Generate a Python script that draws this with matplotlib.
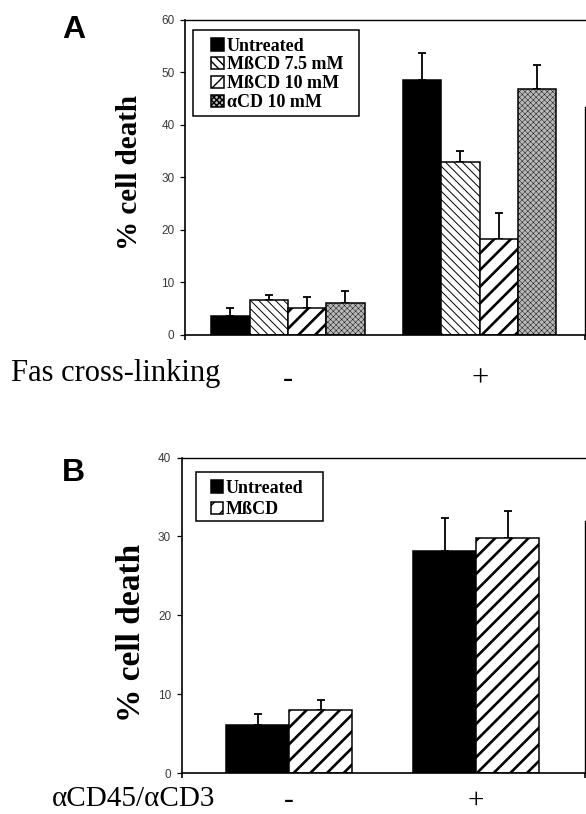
import matplotlib
matplotlib.use("Agg")
import matplotlib.pyplot as plt
import matplotlib.patches as mpatches
import numpy as np

plt.rcParams.update({
    "font.family": "Liberation Serif",
    "axes.linewidth": 1.2,
    "xtick.direction": "out",
    "ytick.direction": "out",
    "ytick.major.size": 3.6,
    "ytick.major.width": 0.9,
    "ytick.major.pad": 4.0,
    "xtick.major.size": 3.6,
    "xtick.major.width": 1.2,
})

# ---- data ----
groups = ["-", "+"]

# panel A: Fas cross-linking
a_labels = ["Untreated", "MßCD 7.5 mM", "MßCD 10 mM", "αCD 10 mM"]
a_untreated = [3.6, 48.6]
a_mbcd75 = [6.7, 33.0]
a_mbcd10 = [5.2, 18.2]
a_acd10 = [6.0, 46.8]
a_untreated_err = [1.6, 5.2]
a_mbcd75_err = [1.0, 2.1]
a_mbcd10_err = [2.1, 5.0]
a_acd10_err = [2.4, 4.6]

# panel B: aCD45/aCD3
b_labels = ["Untreated", "MßCD"]
b_untreated = [6.1, 28.2]
b_mbcd = [8.0, 29.8]
b_untreated_err = [1.4, 4.1]
b_mbcd_err = [1.3, 3.4]

W, H = 586, 814
fig = plt.figure(figsize=(W / 100, H / 100), dpi=100)


def frac(px_left, px_top, px_right, px_bottom):
    return [px_left / W, 1 - px_bottom / H, (px_right - px_left) / W, (px_bottom - px_top) / H]


def draw_bars(ax, values, errs, width, styles, labels):
    x = np.arange(len(groups))
    n = len(values)
    for i, (vals, err, st, lab) in enumerate(zip(values, errs, styles, labels)):
        pos = x + (i - (n - 1) / 2) * width
        with plt.rc_context({"hatch.linewidth": st.get("hlw", 1.0)}):
            ax.bar(pos, vals, width, color=st["fc"], edgecolor="black",
                   hatch=st.get("hatch"), linewidth=1.1, label=lab, zorder=2)
        ax.errorbar(pos, vals, yerr=[np.zeros(len(err)), err], fmt="none",
                    ecolor="black", elinewidth=1.3, capsize=3.0, capthick=1.3, zorder=1)


def style_axes(ax, ymax, xlim, right_top):
    ax.set_xlim(*xlim)
    ax.set_ylim(0, ymax)
    ax.set_yticks(np.arange(0, ymax + 1, 10))
    ax.tick_params(axis="y", labelsize=8.5, labelcolor="#3a3a3a")
    for t in ax.get_yticklabels():
        t.set_family("Liberation Sans")
    # Excel-style ticks only at the two ends of the category axis
    ax.set_xticks(list(xlim))
    ax.set_xticklabels([])
    ax.spines["top"].set_linewidth(1.0)
    ax.spines["right"].set_bounds(0, right_top)
    ax.spines["right"].set_linewidth(1.0)


# ============ Panel A ============
axA = fig.add_axes(frac(185, 20, 584.5, 335))
stylesA = [
    dict(fc="black"),
    dict(fc="white", hatch="\\\\\\\\", hlw=0.7),
    dict(fc="white", hatch="//", hlw=1.9),
    dict(fc="#b8b8b8", hatch="xxxxxx", hlw=0.3),
]
draw_bars(axA, [a_untreated, a_mbcd75, a_mbcd10, a_acd10],
          [a_untreated_err, a_mbcd75_err, a_mbcd10_err, a_acd10_err],
          0.2, stylesA, a_labels)
style_axes(axA, 60, (-0.537, 1.547), 43.5)
axA.set_ylabel("% cell death", fontsize=21, fontweight="bold")
axA.yaxis.set_label_coords(-0.105, 0.516)

axA.legend(loc="upper left", bbox_to_anchor=(0.065, 0.944), frameon=False,
           borderpad=0, borderaxespad=0, handlelength=0.72, handleheight=0.68,
           handletextpad=0.15, labelspacing=0.1,
           prop=dict(family="Liberation Serif", weight="bold", size=13))
axA.add_patch(mpatches.Rectangle((0.0208, 0.695), 0.415, 0.273, transform=axA.transAxes,
                                 fill=False, edgecolor="black", linewidth=1.1,
                                 clip_on=False, zorder=5))

fig.text(62 / W, 1 - 38 / H, "A", family="Liberation Sans", fontweight="bold",
         fontsize=23, va="baseline", ha="left")
fig.text(11 / W, 1 - 381 / H, "Fas cross-linking", fontsize=22, va="baseline", ha="left")
for i, g in enumerate(groups):
    axA.text(i, -0.14, g, transform=axA.get_xaxis_transform(), fontsize=22,
             ha="center", va="center")

# ============ Panel B ============
axB = fig.add_axes(frac(181.7, 457.5, 584.5, 773))
stylesB = [
    dict(fc="black"),
    dict(fc="white", hatch="//", hlw=1.9),
]
draw_bars(axB, [b_untreated, b_mbcd], [b_untreated_err, b_mbcd_err],
          0.336, stylesB, b_labels)
style_axes(axB, 40, (-0.5755, 1.580), 32)
axB.set_ylabel("% cell death", fontsize=24, fontweight="bold")
axB.yaxis.set_label_coords(-0.085, 0.445)

axB.legend(loc="upper left", bbox_to_anchor=(0.072, 0.929), frameon=False,
           borderpad=0, borderaxespad=0, handlelength=0.7, handleheight=0.68,
           handletextpad=0.15, labelspacing=0.25,
           prop=dict(family="Liberation Serif", weight="bold", size=13))
axB.add_patch(mpatches.Rectangle((0.0355, 0.799), 0.315, 0.156, transform=axB.transAxes,
                                 fill=False, edgecolor="black", linewidth=1.1,
                                 clip_on=False, zorder=5))

fig.text(62 / W, 1 - 481 / H, "B", family="Liberation Sans", fontweight="bold",
         fontsize=23, va="baseline", ha="left")
fig.text(52 / W, 1 - 806 / H, "αCD45/αCD3", fontsize=21, va="baseline", ha="left")
for i, g in enumerate(groups):
    axB.text(i, -0.111, g, transform=axB.get_xaxis_transform(), fontsize=21,
             ha="center", va="baseline")

fig.savefig("out.png", dpi=100)
